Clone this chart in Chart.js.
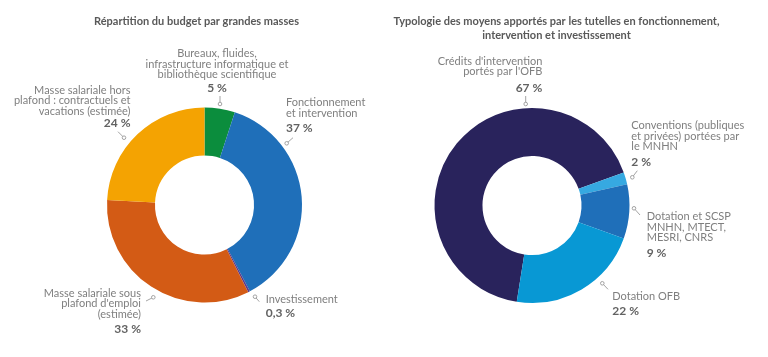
<!DOCTYPE html>
<html>
<head>
<meta charset="utf-8">
<script src="https://cdn.jsdelivr.net/npm/chart.js@4.4.1/dist/chart.umd.min.js"></script>
<style>
  html, body { margin: 0; padding: 0; background: #ffffff; }
  #wrap { position: relative; width: 768px; height: 357px; overflow: hidden; }
  .box { position: absolute; top: 0; width: 384px; height: 357px; }
  #boxL { left: 0; }
  #boxR { left: 384px; }
</style>
</head>
<body>
<div id="wrap">
  <div class="box" id="boxL"><canvas id="chartL"></canvas></div>
  <div class="box" id="boxR"><canvas id="chartR"></canvas></div>
</div>
<script>
// ---------- DATA ----------
const leftTitle = ['Répartition du budget par grandes masses'];
const leftCategories = [
  'Bureaux, fluides, infrastructure informatique et bibliothèque scientifique',
  'Fonctionnement et intervention',
  'Investissement',
  "Masse salariale sous plafond d'emploi (estimée)",
  'Masse salariale hors plafond : contractuels et vacations (estimée)'
];
const leftValues = [5, 37, 0.3, 33, 24];

const rightTitle = ['Typologie des moyens apportés par les tutelles en fonctionnement,', 'intervention et investissement'];
const rightCategories = [
  "Crédits d'intervention portés par l'OFB",
  'Conventions (publiques et privées) portées par le MNHN',
  'Dotation et SCSP MNHN, MTECT, MESRI, CNRS',
  'Dotation OFB'
];
const rightValues = [67, 2, 9, 22];

// ---------- STYLE / LAYOUT ----------
const leftColors = ['#0b8d3d', '#1f6fb9', '#5a3d8f', '#d35b15', '#f4a302'];
const rightColors = ['#29235c', '#36a9e1', '#1f6fb9', '#0898d4'];

// label layout (offsets relative to the donut centre); lines = wrapped category text
const leftLabelLayout = [
  { lines: ['Bureaux, fluides,', 'infrastructure informatique et', 'bibliothèque scientifique'], align: 'center', dx: 12.5, dy: -151.5, pdy: -116.7, c1: [15.5, -109], c2: [15.5, -101] },
  { lines: ['Fonctionnement', 'et intervention'], align: 'left', dx: 81.5, dy: -102.3, pdy: -76.7, c1: [88.5, -67.3], c2: [82.2, -61.7] },
  { lines: ['Investissement'], align: 'left', dx: 61.2, dy: 94.3, pdy: 108.3, c1: [54.8, 96.7], c2: [50.5, 91.7] },
  { lines: ['Masse salariale sous', "plafond d'emploi", '(estimée)'], align: 'right', dx: -63.5, dy: 88.3, pdy: 124, c1: [-58.5, 96], c2: [-51.2, 92.3] },
  { lines: ['Masse salariale hors', 'plafond : contractuels et', 'vacations (estimée)'], align: 'right', dx: -74, dy: -115, pdy: -82, c1: [-86.5, -73.3], c2: [-80.5, -67.3] }
];
const rightLabelLayout = [
  { lines: ["Crédits d'intervention", "portés par l'OFB"], align: 'right', dx: 10.3, dy: -144.2, pdy: -117.2, c1: [-6.3, -109.5], c2: [-6.3, -101.5] },
  { lines: ['Conventions (publiques', 'et privées) portées par', 'le MNHN'], align: 'left', dx: 99.3, dy: -80, pdy: -43.8, c1: [105.3, -34.8], c2: [100.3, -28.2] },
  { lines: ['Dotation et SCSP', 'MNHN, MTECT,', 'MESRI, CNRS'], align: 'left', dx: 114.7, dy: 11.2, pdy: 47.8, c1: [108, 9.5], c2: [102, 2.8] },
  { lines: ['Dotation OFB'], align: 'left', dx: 80.3, dy: 90.5, pdy: 105.2, c1: [76, 83.8], c2: [70.3, 77.8] }
];

const FONT = 'Lato, "Open Sans", "DejaVu Sans", sans-serif';
const LINE_H = 10.6;

function fmtPct(v) {
  return String(v).replace('.', ',') + ' %';
}

const labelPlugin = {
  id: 'donutLabels',
  afterDatasetsDraw(chart, args, opts) {
    const ctx = chart.ctx;
    const meta = chart.getDatasetMeta(0);
    const arc0 = meta.data[0];
    const cx = arc0.x, cy = arc0.y;
    const values = chart.data.datasets[0].data;
    ctx.save();
    // titles
    ctx.fillStyle = '#595959';
    ctx.font = 'bold 11px ' + FONT;
    ctx.textAlign = 'center';
    ctx.textBaseline = 'middle';
    opts.title.forEach((t, i) => ctx.fillText(t, opts.titleX, opts.titleY + i * 14.3));
    // labels
    opts.layout.forEach((L, i) => {
      ctx.textAlign = L.align;
      ctx.textBaseline = 'middle';
      ctx.fillStyle = '#7f7f7f';
      ctx.font = '11px ' + FONT;
      L.lines.forEach((ln, k) => ctx.fillText(ln, cx + L.dx, cy + L.dy + k * LINE_H));
      ctx.fillStyle = '#626262';
      ctx.font = 'bold 12px ' + FONT;
      ctx.fillText(fmtPct(values[i]), cx + L.dx, cy + L.pdy);
      // connector
      ctx.strokeStyle = '#9a9a9a';
      ctx.lineWidth = 0.9;
      ctx.beginPath();
      ctx.moveTo(cx + L.c1[0], cy + L.c1[1]);
      ctx.lineTo(cx + L.c2[0], cy + L.c2[1]);
      ctx.stroke();
      ctx.fillStyle = '#ffffff';
      ctx.beginPath();
      ctx.arc(cx + L.c2[0], cy + L.c2[1], 1.8, 0, Math.PI * 2);
      ctx.fill();
      ctx.stroke();
    });
    ctx.restore();
  }
};

function makeDonut(id, labels, values, colors, rotation, padding, layout, title, titleX, titleY) {
  return new Chart(document.getElementById(id), {
    type: 'doughnut',
    data: {
      labels: labels,
      datasets: [{
        data: values,
        backgroundColor: colors,
        borderWidth: 0,
        hoverOffset: 0
      }]
    },
    options: {
      responsive: true,
      maintainAspectRatio: false,
      animation: false,
      rotation: rotation,
      cutout: '50.8%',
      layout: { padding: padding },
      plugins: {
        legend: { display: false },
        tooltip: { enabled: false },
        title: { display: false },
        donutLabels: { layout: layout, title: title, titleX: titleX, titleY: titleY }
      }
    },
    plugins: [labelPlugin]
  });
}

makeDonut('chartL', leftCategories, leftValues, leftColors, 0,
  { left: 107, right: 82, top: 107.5, bottom: 54.5 }, leftLabelLayout, leftTitle, 196.5, 21);
makeDonut('chartR', rightCategories, rightValues, rightColors, 189,
  { left: 50.5, right: 138.5, top: 108, bottom: 54 }, rightLabelLayout, rightTitle, 172.5, 21);
</script>
</body>
</html>
